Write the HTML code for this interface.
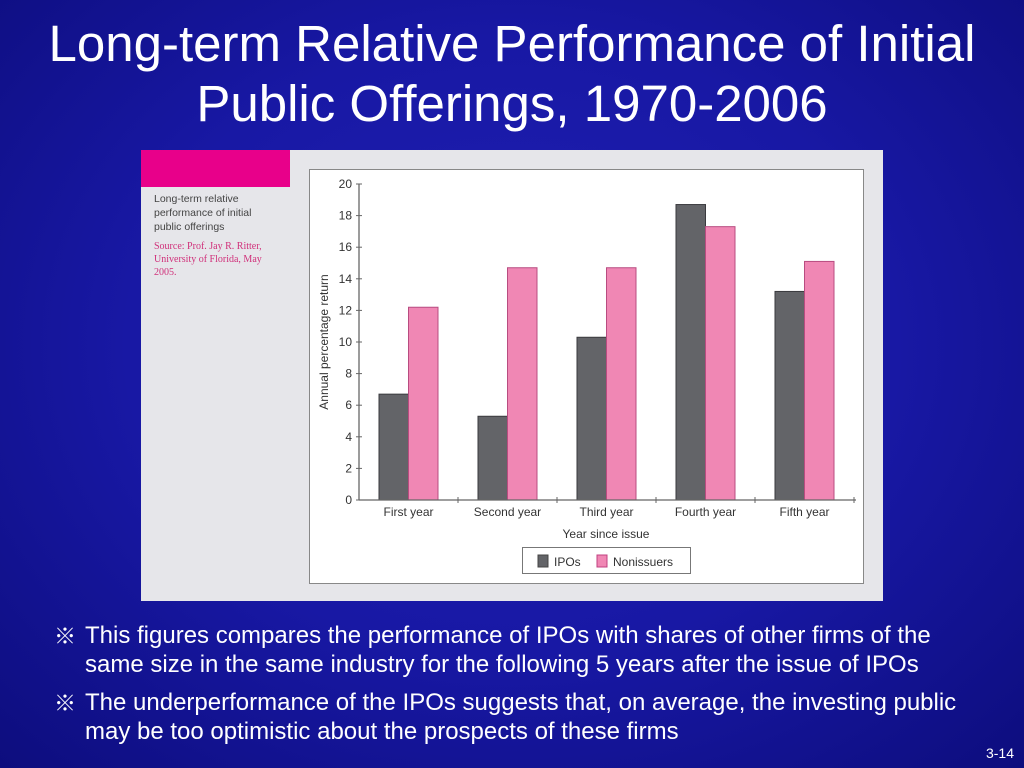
<!DOCTYPE html>
<html><head><meta charset="utf-8"><style>
body{margin:0;width:1024px;height:768px;overflow:hidden;font-family:"Liberation Sans",Arial,sans-serif;
background:radial-gradient(ellipse 75% 80% at 50% 45%,#2020b4 0%,#1818a4 50%,#0c0c7a 100%);position:relative;color:#fff}
.title{position:absolute;left:0;width:1024px;top:14px;text-align:center;font-size:51px;line-height:60px;white-space:nowrap}
.note{position:absolute;left:54px;font-size:24px;line-height:29px;white-space:nowrap}
.note span.m{position:absolute;left:0;top:0;font-family:"Noto Sans CJK JP",sans-serif;font-size:22px}
.note div{padding-left:31px}
</style></head><body>
<div class="title">Long-term Relative Performance of Initial<br>Public Offerings, 1970-2006</div>
<svg style="position:absolute;left:141px;top:150px" width="742" height="451" viewBox="141 150 742 451">
<rect x="141" y="150" width="742" height="451" fill="#e6e6ea"/>
<rect x="141" y="150" width="149" height="37" fill="#e8008a"/>
<g font-family="Liberation Sans, sans-serif" font-size="10.5" fill="#444">
<text x="154" y="202">Long-term relative</text><text x="154" y="216">performance of initial</text><text x="154" y="230">public offerings</text></g>
<g font-family="Liberation Serif, serif" font-size="10" fill="#d0307a">
<text x="154" y="249">Source: Prof. Jay R. Ritter,</text><text x="154" y="262">University of Florida, May</text><text x="154" y="275">2005.</text></g>
<rect x="309.5" y="169.5" width="554" height="414" fill="#fff" stroke="#888"/>
<g id="plot"></g>
<text x="606" y="538" font-size="12" text-anchor="middle" fill="#333" font-family="Liberation Sans, sans-serif">Year since issue</text>
<text transform="translate(328,342) rotate(-90)" font-size="12" text-anchor="middle" fill="#333" font-family="Liberation Sans, sans-serif">Annual percentage return</text>
<g>
<rect x="522.5" y="547.5" width="168" height="26" fill="#fff" stroke="#777"/>
<rect x="538" y="555" width="10" height="12" fill="#636468" stroke="#444"/>
<text x="554" y="566" font-size="12" fill="#333">IPOs</text>
<rect x="597" y="555" width="10" height="12" fill="#f087b4" stroke="#c04080"/>
<text x="613" y="566" font-size="12" fill="#333">Nonissuers</text>
</g>
</svg>
<div class="note" style="top:621px"><span class="m">※</span><div>This figures compares the performance of IPOs with shares of other firms of the<br>same size in the same industry for the following 5 years after the issue of IPOs</div></div>
<div class="note" style="top:688px"><span class="m">※</span><div>The underperformance of the IPOs suggests that, on average, the investing public<br>may be too optimistic about the prospects of these firms</div></div>
<div style="position:absolute;right:10px;top:745px;font-size:14px">3-14</div>
<script>
const categories=["First year","Second year","Third year","Fourth year","Fifth year"];
const ipos=[6.7,5.3,10.3,18.7,13.2];
const nonissuers=[12.2,14.7,14.7,17.3,15.1];
const yTicks=[0,2,4,6,8,10,12,14,16,18,20];
const NS="http://www.w3.org/2000/svg";
const g=document.getElementById("plot");
const x0=359,cw=99,y0=500,yTop=184;
const yS=v=>y0-(y0-yTop)*v/20;
function mk(t,a){const e=document.createElementNS(NS,t);for(const k in a)e.setAttribute(k,a[k]);g.appendChild(e);return e;}
categories.forEach((c,i)=>{
 const cx=x0+cw*i+cw/2;
 const b1=mk("rect",{x:cx-29.5,y:yS(ipos[i]),width:29.5,height:y0-yS(ipos[i]),fill:"#636468",stroke:"#3a3a3e","stroke-width":1});
 
 
 const b2=mk("rect",{x:cx,y:yS(nonissuers[i]),width:29.5,height:y0-yS(nonissuers[i]),fill:"#f087b4",stroke:"#b84c80","stroke-width":1});
 
 
 const t=mk("text",{x:cx,y:516,"font-size":12,"text-anchor":"middle",fill:"#333","font-family":"Liberation Sans, sans-serif"});
 t.textContent=c;
 
 
 mk("line",{x1:x0+cw*(i+1),x2:x0+cw*(i+1),y1:y0-3,y2:y0+3,stroke:"#666"});
});
const ax=mk("line",{x1:x0,x2:x0+cw*5+2,y1:y0,y2:y0,stroke:"#666","stroke-width":1.3});


const ay=mk("line",{x1:x0,x2:x0,y1:yTop,y2:y0,stroke:"#666","stroke-width":1.3});


yTicks.forEach(v=>{
 mk("line",{x1:x0-3,x2:x0+3,y1:yS(v),y2:yS(v),stroke:"#666"});
 const t=mk("text",{x:x0-7,y:yS(v)+4,"font-size":12,"text-anchor":"end",fill:"#333","font-family":"Liberation Sans, sans-serif"});
 t.textContent=v;
 
 
});
</script>
</body></html>
